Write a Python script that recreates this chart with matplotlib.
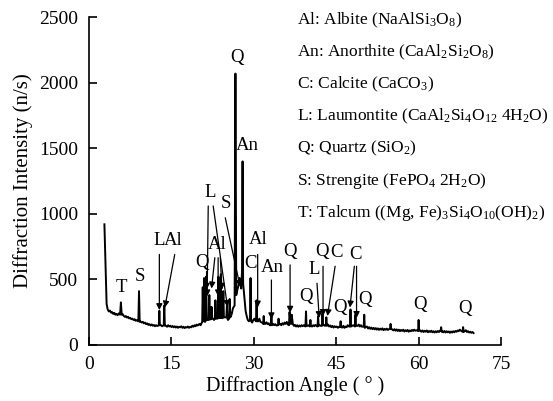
import matplotlib
matplotlib.use("Agg")
import matplotlib.pyplot as plt
import numpy as np

plt.rcParams["font.family"] = ["Liberation Serif", "DejaVu Serif"]
plt.rcParams["mathtext.fontset"] = "custom"
plt.rcParams["mathtext.rm"] = "Liberation Serif"
plt.rcParams["mathtext.it"] = "Liberation Serif:italic"

# baseline of the pattern (angle, intensity)
base_angle = [2.8, 3.0, 3.2, 3.4, 3.6, 3.8, 4.0, 4.2, 4.4, 4.6, 4.8, 5.0, 5.2, 5.4,
              6.1, 6.3, 6.5, 6.7, 6.9, 7.1, 7.3, 7.5, 7.7, 7.9, 8.1, 8.3, 8.5, 8.7,
              9.4, 9.6, 9.8, 10.0, 10.2, 10.4, 10.6, 10.8, 11.0, 11.2, 11.4, 11.6, 11.8,
              12.0, 12.2, 12.4, 13.1, 13.3, 14.0, 14.2, 14.4, 14.6, 14.8, 15.0, 15.2,
              15.4, 15.6, 15.8, 16.0, 16.2, 16.4, 16.6, 16.8, 17.0, 17.2, 17.4, 17.6,
              17.8, 18.0, 18.2, 18.4, 18.6, 18.8, 19.0, 19.2, 19.4, 19.6, 19.8, 20.1,
              20.3, 22.6, 22.75, 24.8, 25.3, 25.85, 26.0, 26.2,
              27.0, 27.2, 27.4, 27.55, 27.7, 28.2, 28.35, 28.5, 28.7, 28.9, 29.1,
              29.7, 29.9, 30.1, 30.3, 30.8, 31.0, 31.2, 31.5, 32.1, 32.3, 32.5, 32.7,
              32.9, 33.5, 33.7, 33.9, 34.1, 34.8, 35.0, 35.2, 35.4, 35.6, 35.8, 36.0,
              36.2, 37.1, 37.3, 37.5, 37.7, 37.9, 38.1, 38.3, 38.5, 38.7, 38.9, 39.1,
              39.8, 40.0, 40.6, 40.8, 41.0, 41.2, 41.4, 42.0, 42.2, 42.8, 42.95, 43.5,
              43.7, 43.9, 44.1, 44.3, 44.5, 44.7, 44.9, 45.1, 45.3, 45.5, 46.1, 46.3,
              46.5, 46.7, 46.9, 47.1, 47.3, 47.9, 48.1, 48.9, 49.1, 49.3, 49.5, 49.7,
              50.4, 50.6, 50.8, 51.0, 51.2, 51.4, 51.6, 51.8, 52.0, 52.2, 52.4, 52.6,
              52.8, 53.0, 53.2, 53.4, 53.6, 53.8, 54.0, 54.2, 54.4, 54.6, 55.2, 55.4,
              55.6, 55.8, 56.0, 56.2, 56.4, 56.6, 56.8, 57.0, 57.2, 57.4, 57.6, 57.8,
              58.0, 58.2, 58.4, 58.6, 58.8, 59.0, 59.2, 59.4, 59.7, 60.3, 60.5, 60.7,
              60.9, 61.1, 61.3, 61.5, 61.7, 61.9, 62.1, 62.3, 62.5, 62.7, 62.9, 63.1,
              63.3, 63.5, 63.7, 63.9, 64.3, 64.5, 64.7, 64.9, 65.1, 65.3, 65.5, 65.7,
              65.9, 66.1, 66.3, 66.5, 66.7, 66.9, 67.1, 67.3, 67.5, 67.7, 68.4, 68.6,
              68.8, 69.0, 69.2, 69.4, 69.6, 69.8, 70.0]
base_int = [920, 600, 310, 270, 255, 262, 246, 250, 236, 244, 230, 236, 226, 240,
            236, 222, 214, 220, 208, 214, 202, 206, 196, 200, 190, 196, 184, 188,
            178, 170, 176, 164, 170, 158, 164, 152, 158, 148, 156, 146, 152,
            142, 150, 144, 150, 142, 146, 138, 150, 140, 146, 136, 144,
            134, 142, 132, 140, 130, 138, 134, 142, 130, 138, 128, 136,
            132, 140, 130, 138, 134, 146, 138, 150, 142, 155, 148, 160,
            150, 200, 190, 210, 190, 220, 240, 280,
            420, 450, 510, 480, 430, 400, 330, 260, 220, 190, 180,
            170, 190, 200, 185, 180, 200, 175, 170, 160, 172, 158, 165,
            150, 160, 150, 158, 148, 160, 150, 165, 155, 170, 160, 175,
            155, 160, 145, 152, 140, 150, 138, 148, 140, 150, 142, 150,
            145, 150, 140, 150, 142, 152, 145, 150, 145, 150, 145, 155,
            140, 148, 135, 145, 132, 142, 135, 140, 130, 138, 132, 145,
            130, 140, 135, 150, 140, 145, 150, 145, 155, 140, 150, 138,
            135, 140, 125, 135, 122, 132, 120, 130, 118, 128, 116, 126,
            114, 124, 116, 126, 112, 122, 115, 124, 114, 120, 118, 110,
            120, 108, 118, 106, 116, 104, 114, 106, 116, 102, 112, 104,
            114, 100, 110, 104, 114, 106, 116, 108, 112, 110, 100, 110,
            98, 108, 100, 110, 96, 106, 98, 108, 96, 104, 94, 104,
            96, 106, 98, 108, 104, 96, 106, 94, 104, 96, 102, 92,
            102, 94, 104, 96, 106, 100, 110, 104, 116, 108, 104, 112,
            98, 104, 94, 100, 92, 98, 90]

# sharp reflections: (left foot, top, right foot)
peak_angle = [5.65, 5.8, 5.95, 8.98, 9.1, 9.22, 12.7, 12.8, 12.9, 13.6, 13.7, 13.8,
              20.6, 20.7, 20.8, 20.85, 20.95, 21.1, 21.2, 21.3, 21.45, 21.8, 21.9, 22.0,
              22.2, 22.3, 22.4, 22.9, 23.0, 23.1, 23.4, 23.55, 23.7, 23.9, 24.0, 24.1,
              24.35, 24.45, 24.55, 25.0, 25.1, 25.2, 25.5, 25.6, 25.7,
              26.5, 26.65, 26.8, 27.85, 27.95, 28.05, 29.3, 29.4, 29.5, 30.4, 30.5, 30.6,
              31.7, 31.8, 31.9, 33.1, 33.2, 33.3, 34.4, 34.5, 34.6, 36.4, 36.5, 36.7,
              36.8, 36.9, 39.4, 39.5, 39.6, 40.2, 40.3, 40.4, 41.6, 41.7, 41.8,
              42.4, 42.5, 42.6, 43.1, 43.2, 43.3, 45.7, 45.8, 45.9, 47.5, 47.6, 47.7,
              48.4, 48.5, 48.6, 50.0, 50.1, 50.2, 54.8, 54.9, 55.0, 59.9, 60.0, 60.1,
              64.0, 64.1, 64.2, 68.0, 68.1, 68.2]
peak_int = [230, 324, 230, 180, 410, 176, 148, 260, 150, 150, 300, 146,
            175, 440, 180, 180, 510, 175, 180, 520, 190, 190, 380, 195,
            195, 290, 200, 200, 340, 200, 200, 520, 205, 205, 540, 205,
            205, 410, 210, 210, 300, 200, 200, 350, 210,
            300, 2070, 380, 560, 1400, 470, 190, 510, 180, 180, 340, 180,
            160, 220, 160, 150, 230, 150, 150, 200, 155, 150, 250, 160,
            160, 230, 140, 255, 145, 140, 190, 145, 140, 220, 145,
            145, 240, 150, 150, 210, 145, 135, 180, 135, 140, 270, 140,
            140, 230, 145, 140, 230, 130, 125, 160, 120, 105, 190, 108,
            105, 135, 100, 100, 135, 98]

# phase labels: text, text position, arrows (start -> tip)
labels = [
    ("T", (5.8, 440), []),
    ("S", (9.3, 520), []),
    ("L", (12.7, 800), [((12.8, 690), (12.8, 265))]),
    ("Al", (15.4, 800), [((15.6, 690), (13.8, 285))]),
    ("Q", (20.6, 625), [((21.4, 560), (21.4, 420))]),
    ("L", (22.1, 1160), [((21.7, 1060), (21.5, 370)), ((22.6, 1060), (25.2, 290))]),
    ("S", (24.9, 1075), [((24.8, 970), (27.5, 445))]),
    ("Al", (23.4, 766), [((22.9, 665), (22.3, 430)), ((23.5, 665), (23.5, 370)),
                         ((23.9, 665), (24.2, 420))]),
    ("Q", (26.9, 2190), []),
    ("An", (28.8, 1520), []),
    ("C", (29.4, 620), []),
    ("Al", (30.8, 805), [((30.7, 690), (30.7, 285))]),
    ("An", (33.3, 590), [((33.2, 495), (33.2, 195))]),
    ("Q", (36.6, 715), [((36.6, 610), (36.6, 245))]),
    ("Q", (39.5, 372), []),
    ("L", (41.0, 575), [((41.5, 470), (41.9, 205))]),
    ("Q", (42.4, 715), [((42.6, 600), (42.6, 220))]),
    ("C", (45.0, 705), [((44.8, 600), (43.4, 220))]),
    ("Q", (45.6, 282), []),
    ("C", (48.6, 690), [((48.3, 600), (47.5, 285)), ((48.7, 600), (48.7, 205))]),
    ("Q", (50.3, 345), []),
    ("Q", (60.2, 307), []),
    ("Q", (68.4, 275), []),
]

legend_lines = [
    r"Al: Albite (NaAlSi$_{\mathrm{3}}$O$_{\mathrm{8}}$)",
    r"An: Anorthite (CaAl$_{\mathrm{2}}$Si$_{\mathrm{2}}$O$_{\mathrm{8}}$)",
    r"C: Calcite (CaCO$_{\mathrm{3}}$)",
    r"L: Laumontite (CaAl$_{\mathrm{2}}$Si$_{\mathrm{4}}$O$_{\mathrm{12}}$ 4H$_{\mathrm{2}}$O)",
    r"Q: Quartz (SiO$_{\mathrm{2}}$)",
    r"S: Strengite (FePO$_{\mathrm{4}}$ 2H$_{\mathrm{2}}$O)",
    r"T: Talcum ((Mg, Fe)$_{\mathrm{3}}$Si$_{\mathrm{4}}$O$_{\mathrm{10}}$(OH)$_{\mathrm{2}}$)",
]

angle = np.array(base_angle + peak_angle)
inten = np.array(base_int + peak_int)
order = np.argsort(angle, kind="stable")
angle = angle[order]
inten = inten[order]

fig = plt.figure(figsize=(5.53, 4.01), dpi=100)
ax = fig.add_axes([0.161, 0.140, 0.745, 0.817])
ax.plot(angle, inten, color="black", lw=1.4)

ax.set_xlim(0, 75)
ax.set_ylim(0, 2500)
ax.set_xticks([0, 15, 30, 45, 60, 75])
ax.set_yticks([0, 500, 1000, 1500, 2000, 2500])
ax.spines["top"].set_visible(False)
ax.spines["right"].set_visible(False)
ax.spines["left"].set_linewidth(1.2)
ax.spines["bottom"].set_linewidth(1.2)
ax.tick_params(direction="in", length=6, width=1.2, labelsize=14, pad=8)
ax.set_xlabel("Diffraction Angle ( ° )", fontsize=14.5, labelpad=2)
ax.set_ylabel("Diffraction Intensity (n/s)", fontsize=15, labelpad=4)

for txt, pos, arrows in labels:
    ax.text(pos[0], pos[1], txt, fontsize=13.5, ha="center", va="center")
    for start, tip in arrows:
        ax.annotate("", xy=tip, xytext=start,
                    arrowprops=dict(arrowstyle="-|>", color="black", lw=0.9,
                                    mutation_scale=9, shrinkA=0, shrinkB=0))

for i, line in enumerate(legend_lines):
    fig.text(297 / 553, 1 - (20 + 32.2 * i) / 401, line, fontsize=12.5,
             ha="left", va="center")

fig.savefig("out.png", dpi=100)
